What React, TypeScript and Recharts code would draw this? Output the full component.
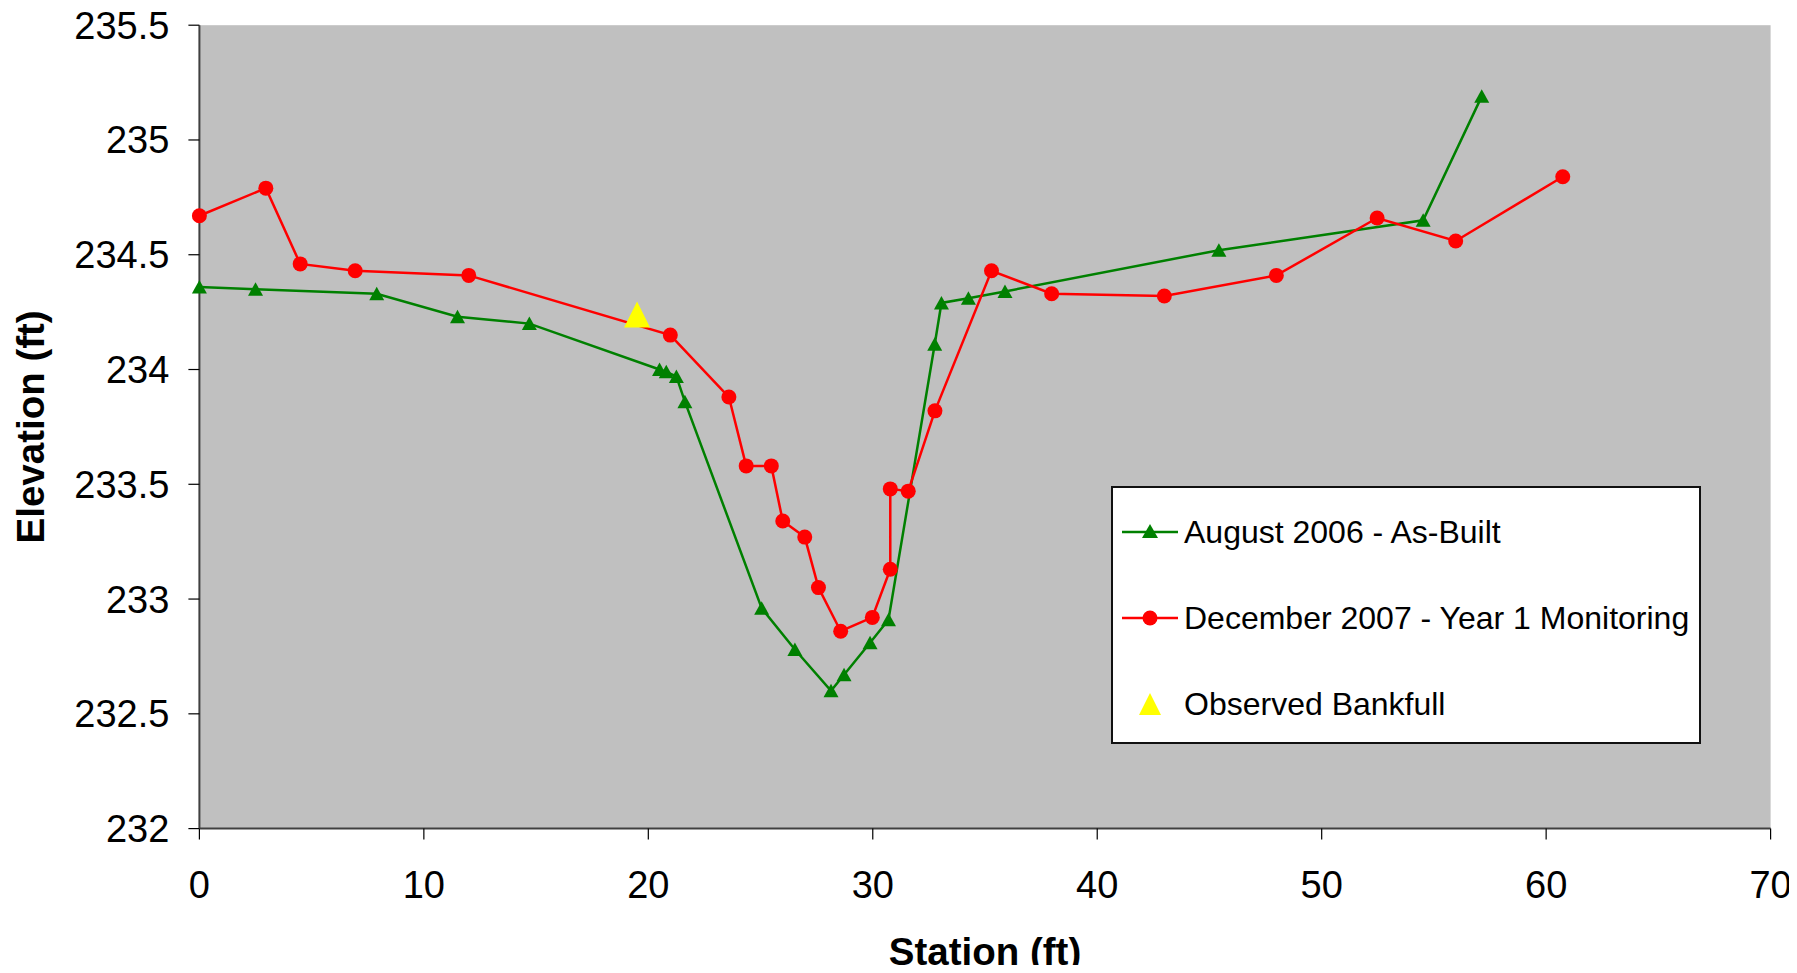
import { ScatterChart, Scatter, XAxis, YAxis, CartesianGrid } from "recharts";

// ============================================================
// CROSS SECTION DATA (station ft / elevation ft)
// ============================================================

const asBuiltStation = [
  0, 2.5, 7.9, 11.5, 14.7, 20.5, 20.8, 21.25, 21.63, 25.05, 26.53, 28.14, 28.72,
  29.88, 30.7, 32.76, 33.06, 34.26, 35.89, 45.42, 54.52, 57.13,
];
const asBuiltElevation = [
  234.36, 234.35, 234.33, 234.23, 234.2, 234.0, 233.99, 233.97, 233.86, 232.96,
  232.78, 232.6, 232.67, 232.81, 232.91, 234.11, 234.29, 234.31, 234.34, 234.52,
  234.65, 235.19,
];

const monitoringStation = [
  0, 2.96, 4.49, 6.94, 12.0, 20.98, 23.59, 24.36, 25.48, 25.99, 26.97, 27.58,
  28.57, 29.98, 30.78, 30.78, 31.58, 32.77, 35.29, 37.97, 42.99, 47.98, 52.47,
  55.97, 60.74,
];
const monitoringElevation = [
  234.67, 234.79, 234.46, 234.43, 234.41, 234.15, 233.88, 233.58, 233.58, 233.34,
  233.27, 233.05, 232.86, 232.92, 233.13, 233.48, 233.47, 233.82, 234.43, 234.33,
  234.32, 234.41, 234.66, 234.56, 234.84,
];

const bankfullStation = [19.5];
const bankfullElevation = [234.24];

const stationTicks = [0, 10, 20, 30, 40, 50, 60, 70];
const elevationTicks = [232, 232.5, 233, 233.5, 234, 234.5, 235, 235.5];

const GREEN = "#008000";
const RED = "#FF0000";
const YELLOW = "#FFFF00";
const FONT = "'Liberation Sans', Arial, sans-serif";

const toPoints = (xs: number[], ys: number[]) =>
  xs.map((x, i) => ({ x, y: ys[i] }));

const asBuilt = toPoints(asBuiltStation, asBuiltElevation);
const monitoring = toPoints(monitoringStation, monitoringElevation);
const bankfull = toPoints(bankfullStation, bankfullElevation);

// ── Marker shapes ──

function GreenTriangle(props: any) {
  const { cx, cy } = props;
  return (
    <polygon
      points={`${cx},${cy - 7} ${cx - 7.5},${cy + 6.5} ${cx + 7.5},${cy + 6.5}`}
      fill={GREEN}
    />
  );
}

function RedCircle(props: any) {
  const { cx, cy } = props;
  return <circle cx={cx} cy={cy} r={7.5} fill={RED} />;
}

function YellowTriangle(props: any) {
  const { cx, cy } = props;
  return (
    <polygon
      points={`${cx},${cy - 13} ${cx - 13},${cy + 13} ${cx + 13},${cy + 13}`}
      fill={YELLOW}
    />
  );
}

// ── Axis titles ──

function XTitle(props: any) {
  const { viewBox } = props;
  const cx = viewBox.x + viewBox.width / 2;
  return (
    <text
      x={cx}
      y={viewBox.y + 136.4}
      textAnchor="middle"
      fontSize={38.5}
      fontWeight="bold"
      fontFamily={FONT}
      fill="#000"
    >
      Station (ft)
    </text>
  );
}

function YTitle(props: any) {
  const { viewBox } = props;
  const cx = 31;
  const cy = viewBox.y + viewBox.height / 2;
  return (
    <text
      x={cx}
      y={cy}
      transform={`rotate(-90 ${cx} ${cy})`}
      textAnchor="middle"
      dominantBaseline="central"
      fontSize={38.5}
      fontWeight="bold"
      fontFamily={FONT}
      fill="#000"
    >
      Elevation (ft)
    </text>
  );
}

// ── Legend ──

const legendItems = [
  { name: "August 2006 - As-Built", line: GREEN, marker: "tri" },
  { name: "December 2007 - Year 1 Monitoring", line: RED, marker: "circle" },
  { name: "Observed Bankfull", line: null, marker: "bankfull" },
];

function LegendBox() {
  const rowCenters = [44, 130, 216];
  return (
    <div
      style={{
        position: "absolute",
        left: 1111,
        top: 486,
        width: 590,
        height: 258,
        boxSizing: "border-box",
        background: "#fff",
        border: "2px solid #111",
        fontFamily: FONT,
      }}
    >
      {legendItems.map((item, i) => (
        <div
          key={item.name}
          style={{
            position: "absolute",
            left: 9,
            top: rowCenters[i] - 22,
            height: 44,
            display: "flex",
            alignItems: "center",
            whiteSpace: "nowrap",
          }}
        >
          <svg width={56} height={30} style={{ marginRight: 6 }}>
            {item.line && (
              <line x1={0} y1={15} x2={56} y2={15} stroke={item.line} strokeWidth={2.5} />
            )}
            {item.marker === "tri" && (
              <polygon points="28,7 20,21 36,21" fill={GREEN} />
            )}
            {item.marker === "circle" && <circle cx={28} cy={15} r={7.5} fill={RED} />}
            {item.marker === "bankfull" && (
              <polygon points="28,4 17,26 39,26" fill={YELLOW} />
            )}
          </svg>
          <span style={{ fontSize: 32, color: "#000" }}>{item.name}</span>
        </div>
      ))}
    </div>
  );
}

// ── Main Component ──

export default function App() {
  const tickStyle = { fontSize: 38, fill: "#000", fontFamily: FONT };

  return (
    <div style={{ position: "relative", width: 1797, height: 973, margin: -8 }}>
      <ScatterChart
        width={1797}
        height={973}
        margin={{ top: 25.2, right: 26.4, left: 0, bottom: 0 }}
        style={{ fontFamily: FONT }}
      >
        <CartesianGrid fill="#C0C0C0" horizontal={false} vertical={false} />
        <XAxis
          type="number"
          dataKey="x"
          domain={[0, 70]}
          ticks={stationTicks}
          interval={0}
          height={144.4}
          tickSize={11}
          tickMargin={31.5}
          tick={tickStyle}
          axisLine={{ stroke: "#404040", strokeWidth: 2 }}
          tickLine={{ stroke: "#000", strokeWidth: 1.2 }}
          label={{ content: XTitle }}
        />
        <YAxis
          type="number"
          dataKey="y"
          domain={[232, 235.5]}
          ticks={elevationTicks}
          interval={0}
          allowDataOverflow
          width={199.4}
          tickSize={11}
          tickMargin={19}
          tick={tickStyle}
          tickFormatter={(v: number) => String(v)}
          axisLine={{ stroke: "#404040", strokeWidth: 2 }}
          tickLine={{ stroke: "#000", strokeWidth: 1.2 }}
          label={{ content: YTitle }}
        />
        <Scatter
          name="August 2006 - As-Built"
          data={asBuilt}
          fill={GREEN}
          line={{ stroke: GREEN, strokeWidth: 2.5 }}
          lineType="joint"
          shape={GreenTriangle}
          isAnimationActive={false}
        />
        <Scatter
          name="December 2007 - Year 1 Monitoring"
          data={monitoring}
          fill={RED}
          line={{ stroke: RED, strokeWidth: 2.5 }}
          lineType="joint"
          shape={RedCircle}
          isAnimationActive={false}
        />
        <Scatter
          name="Observed Bankfull"
          data={bankfull}
          fill={YELLOW}
          shape={YellowTriangle}
          isAnimationActive={false}
        />
      </ScatterChart>
      <LegendBox />
    </div>
  );
}
